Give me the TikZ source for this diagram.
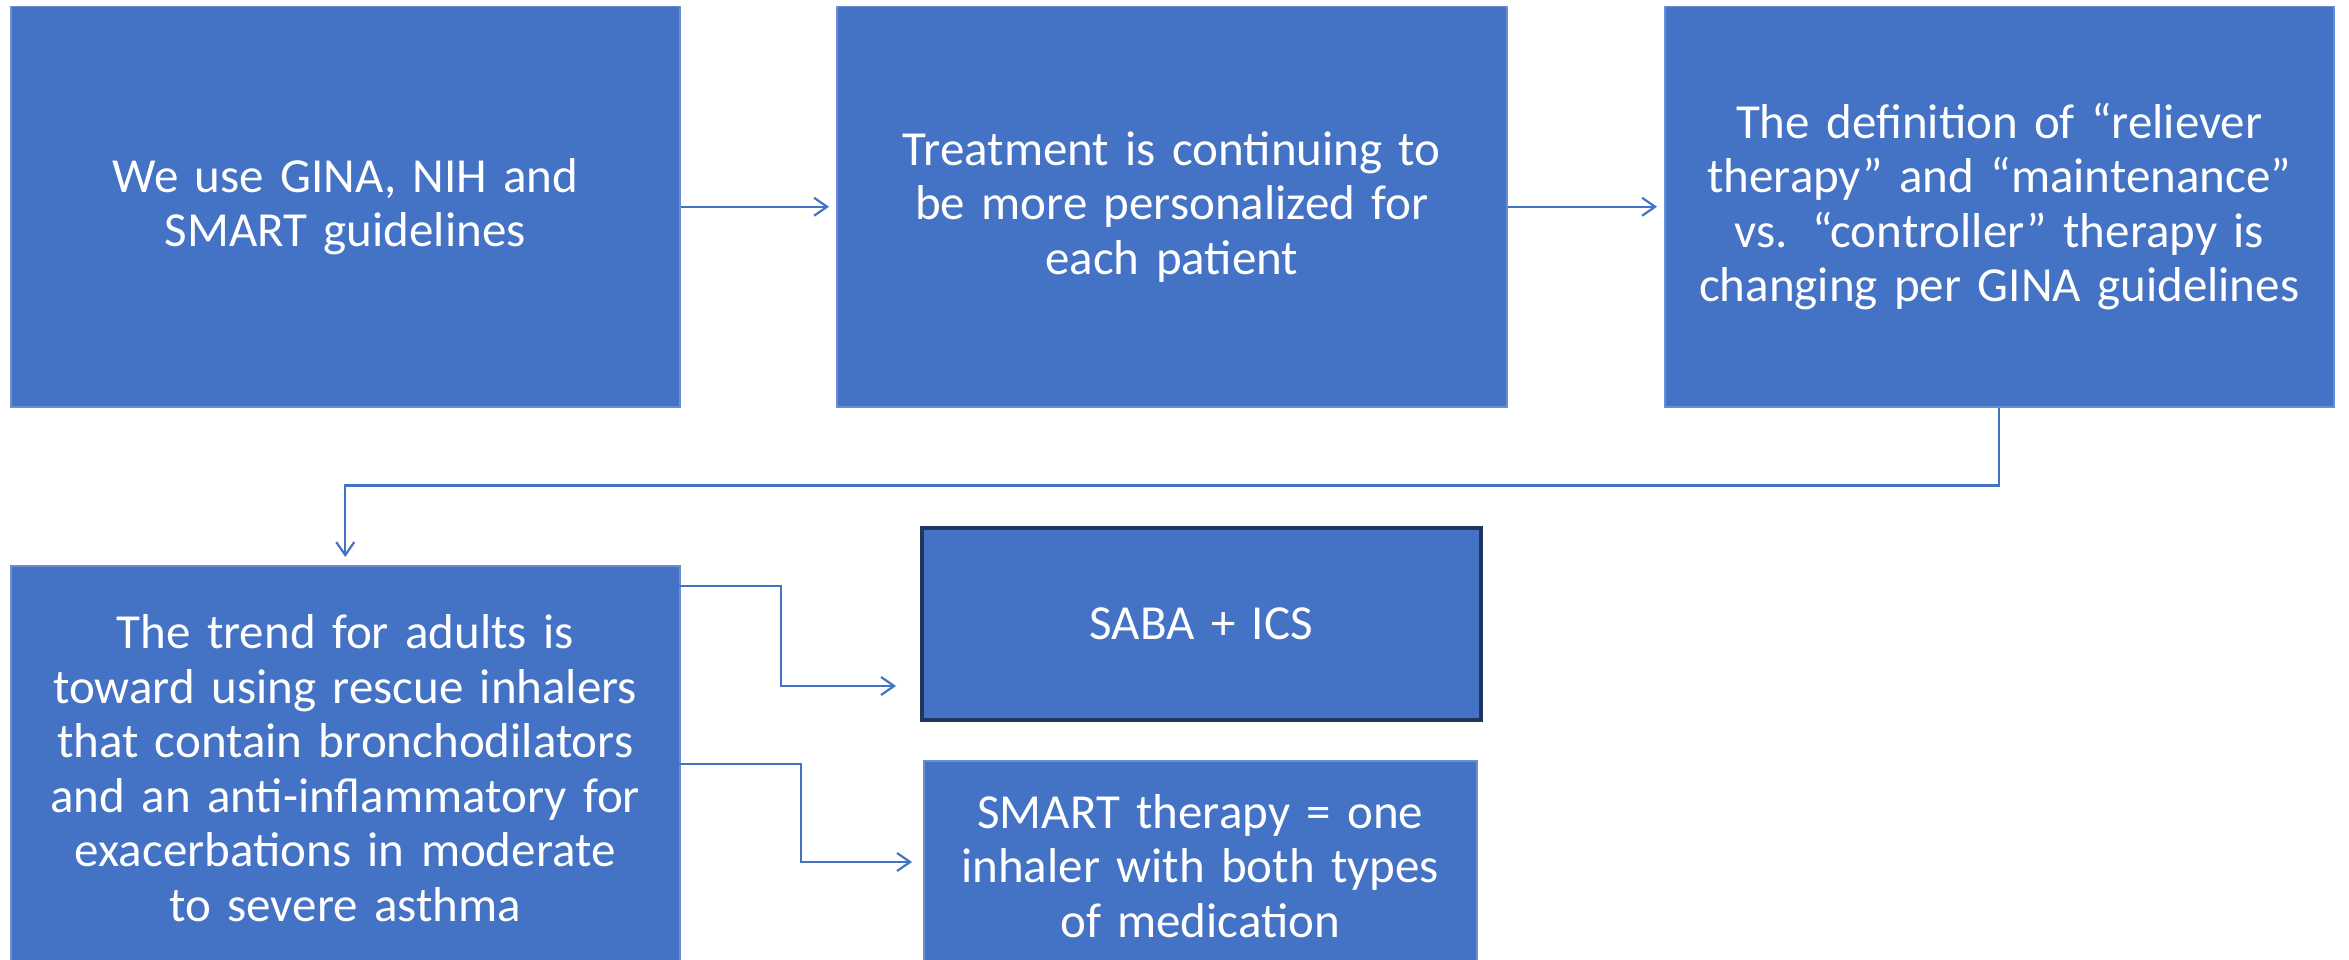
\documentclass[tikz,border=0pt]{standalone}
\usepackage{fontspec}
\setmainfont{Carlito}
\usetikzlibrary{arrows.meta,calc}
\definecolor{boxblue}{HTML}{4472C4}
\definecolor{boxedge}{HTML}{6A8ED2}
\definecolor{darkedge}{HTML}{22355E}
\begin{document}
\begin{tikzpicture}[x=1pt,y=-1pt,
  box/.style={draw=boxedge,line width=1.5pt,fill=boxblue,text=white,anchor=north west,inner sep=0pt,
    align=center,font=\fontsize{49}{54.5}\selectfont},
  conn/.style={draw=boxblue,line width=2.2pt,-{Straight Barb[length=13pt,width=18pt,line width=2.2pt]}}
]
\useasboundingbox (0,0) rectangle (2349,960);
\fill[white] (0,0) rectangle (2349,960);
\node[box,minimum width=669pt,minimum height=400pt,text width=640pt] (b1) at (10,6) {We use GINA, NIH and\\SMART guidelines};
\node[box,minimum width=670pt,minimum height=400pt,text width=640pt] (b2) at (836,6) {Treatment is continuing to\\be more personalized for\\each patient};
\node[box,minimum width=669pt,minimum height=400pt,text width=660pt] (b3) at (1664,6) {The definition of “reliever\\therapy” and “maintenance”\\vs. “controller” therapy is\\changing per GINA guidelines};
\node[box,minimum width=669pt,minimum height=405pt,text width=640pt] (b4) at (10,565) {The trend for adults is\\toward using rescue inhalers\\that contain bronchodilators\\and an anti-inflammatory for\\exacerbations in moderate\\to severe asthma};
\node[box,draw=darkedge,line width=3.5pt,minimum width=559pt,minimum height=192pt,text width=540pt] (b5) at (920,526) {SABA + ICS};
\node[box,minimum width=553pt,minimum height=210pt,text width=540pt] (b6) at (923,760) {SMART therapy = one\\inhaler with both types\\of medication};
\coordinate (s1) at (679,586);
\coordinate (e1) at (896,686);
\coordinate (s2) at (679,764);
\coordinate (e2) at (912,862);
\draw[conn,shorten >=7pt] (b1.east) -- (b2.west);
\draw[conn,shorten >=7pt] (b2.east) -- (b3.west);
\draw[conn,shorten >=8pt] (b3.south) -- ++(0,78) -| (b4.north);
\draw[conn] (s1) -- (781,586) |- (e1);
\draw[conn] (s2) -- (801,764) |- (e2);
\end{tikzpicture}
\end{document}
